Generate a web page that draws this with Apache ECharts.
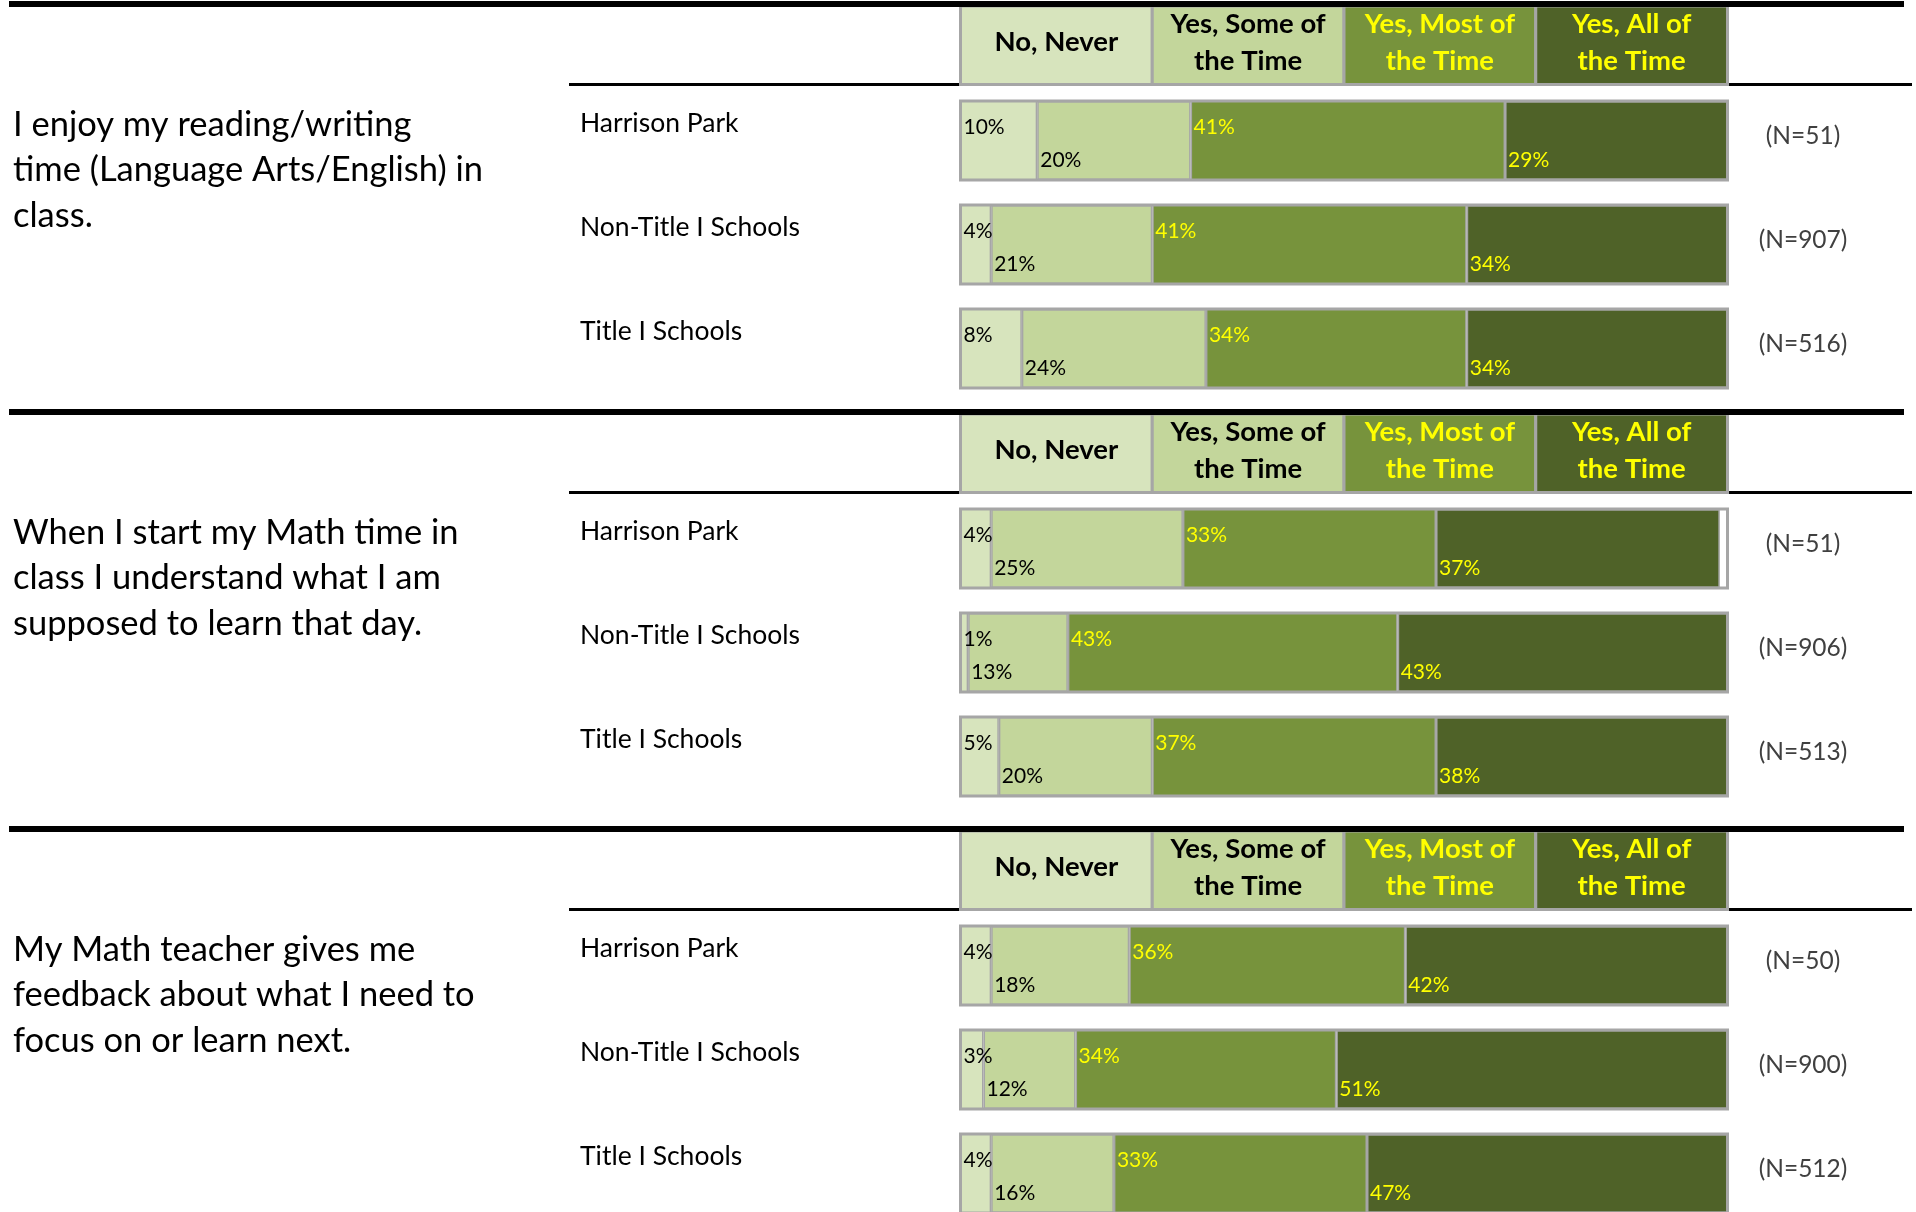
<!DOCTYPE html>
<html>
<head>
<meta charset="utf-8">
<style>
  html, body { margin: 0; padding: 0; background: #ffffff; }
  #chart { width: 1916px; height: 1212px; }
</style>
<script src="https://cdn.jsdelivr.net/npm/echarts@6/dist/echarts.min.js"></script>
</head>
<body>
<div id="chart"></div>
<script>
// Survey statements (one block each)
const questions = [
  'I enjoy my reading/writing\ntime (Language Arts/English) in\nclass.',
  'When I start my Math time in\nclass I understand what I am\nsupposed to learn that day.',
  'My Math teacher gives me\nfeedback about what I need to\nfocus on or learn next.'
];
// Respondent groups (rows inside each block)
const groups = ['Harrison Park', 'Non-Title I Schools', 'Title I Schools'];
// Answer scale (column headers)
const responses = ['No, Never', 'Yes, Some of\nthe Time', 'Yes, Most of\nthe Time', 'Yes, All of\nthe Time'];

// Percentages: [statement][group]
const noNever  = [[10, 4, 8], [4, 1, 5], [4, 3, 4]];
const someTime = [[20, 21, 24], [25, 13, 20], [18, 12, 16]];
const mostTime = [[41, 41, 34], [33, 43, 37], [36, 34, 33]];
const allTime  = [[29, 34, 34], [37, 43, 38], [42, 51, 47]];
// Number of respondents: [statement][group]
const sampleSizes = [[51, 907, 516], [51, 906, 513], [50, 900, 512]];

const responseValues = [noNever, someTime, mostTime, allTime];

const FONT = 'Lato, "Open Sans", "Noto Sans", sans-serif';
const FILLS = ['#D7E4BD', '#C3D69B', '#77933C', '#4F6228'];
const INK = ['#000000', '#000000', '#FFFF00', '#FFFF00'];
const EDGE = '#A6A6A6';
const blockTop = [0, 408, 825];
const PLOT_LEFT = 960.5;
const PLOT_WIDTH = 767;
const ROW_LABEL_X = 580;

const chart = echarts.init(document.getElementById('chart'), null, { renderer: 'canvas' });

const grid = [], xAxis = [], yAxis = [], series = [];
questions.forEach((q, s) => {
  const top = blockTop[s];
  grid.push({ left: PLOT_LEFT, top: top + 88.5, width: PLOT_WIDTH, height: 312, outerBoundsMode: 'none', containLabel: false });
  xAxis.push({ type: 'value', gridIndex: s, min: 0, max: 100, show: false });
  // group names, set a little above the middle of each bar
  yAxis.push({
    type: 'category', gridIndex: s, inverse: true, data: groups,
    axisLine: { show: false }, axisTick: { show: false }, splitLine: { show: false },
    axisLabel: {
      align: 'left', verticalAlign: 'bottom', lineHeight: 35,
      margin: PLOT_LEFT - ROW_LABEL_X,
      fontFamily: FONT, fontSize: 26.5, color: '#000000'
    }
  });
  // respondent counts on the right
  yAxis.push({
    type: 'category', gridIndex: s, position: 'right', inverse: true,
    data: sampleSizes[s].map(n => '(N=' + n + ')'),
    axisLine: { show: false }, axisTick: { show: false }, splitLine: { show: false },
    axisLabel: {
      align: 'center', verticalAlign: 'bottom', lineHeight: 8, margin: 75.5,
      fontFamily: FONT, fontSize: 24.5, color: '#404040'
    }
  });
  responses.forEach((r, k) => {
    series.push({
      type: 'bar', name: r, xAxisIndex: s, yAxisIndex: 2 * s, stack: 'block' + s,
      barWidth: 79, silent: true,
      // grey frame around the whole 0-100% row
      showBackground: k === 0,
      backgroundStyle: { color: 'rgba(0,0,0,0)', borderColor: EDGE, borderWidth: 3 },
      data: responseValues[k][s],
      itemStyle: { color: FILLS[k], borderColor: EDGE, borderWidth: 1.5 },
      label: {
        show: true, position: 'insideLeft', distance: 3,
        offset: [0, k % 2 === 0 ? -13.5 : 19.5],
        formatter: '{c}%', color: INK[k], fontFamily: FONT, fontSize: 21
      },
      z: 2 + (k % 2 === 0 ? 1 : 0)
    });
  });
});

chart.setOption({
  backgroundColor: '#ffffff',
  animation: false,
  grid, xAxis, yAxis, series
});

// Block frames, header cells and statement text
const graphic = [];
questions.forEach((q, s) => {
  const top = blockTop[s];
  graphic.push({
    type: 'text', left: 13, top: top + 102, z: 10,
    style: { text: q, fontFamily: FONT, fontSize: 34.5, lineHeight: 45.5, fill: '#000000' }
  });
  graphic.push({
    type: 'line', z: 5,
    shape: { x1: ROW_LABEL_X - 11, y1: top + 84.5, x2: 1912, y2: top + 84.5 },
    style: { stroke: '#000000', lineWidth: 3 }
  });
  responses.forEach((r, k) => {
    const x0 = chart.convertToPixel({ xAxisIndex: s }, 25 * k);
    const x1 = chart.convertToPixel({ xAxisIndex: s }, 25 * (k + 1));
    graphic.push({
      type: 'rect', z: 6,
      shape: { x: x0, y: top + 6, width: x1 - x0, height: 78.5 },
      style: { fill: FILLS[k], stroke: EDGE, lineWidth: 3 }
    });
    graphic.push({
      type: 'text', z: 7, x: (x0 + x1) / 2, y: top + (k === 0 ? 42 : 43),
      style: {
        text: r, align: 'center', verticalAlign: 'middle',
        fontFamily: FONT, fontWeight: 'bold', fontSize: 27.5, lineHeight: 37, fill: INK[k]
      }
    });
  });
  graphic.push({
    type: 'line', z: 8,
    shape: { x1: 9, y1: top + 4, x2: 1904, y2: top + 4 },
    style: { stroke: '#000000', lineWidth: 6 }
  });
});

chart.setOption({ graphic });
</script>
</body>
</html>
